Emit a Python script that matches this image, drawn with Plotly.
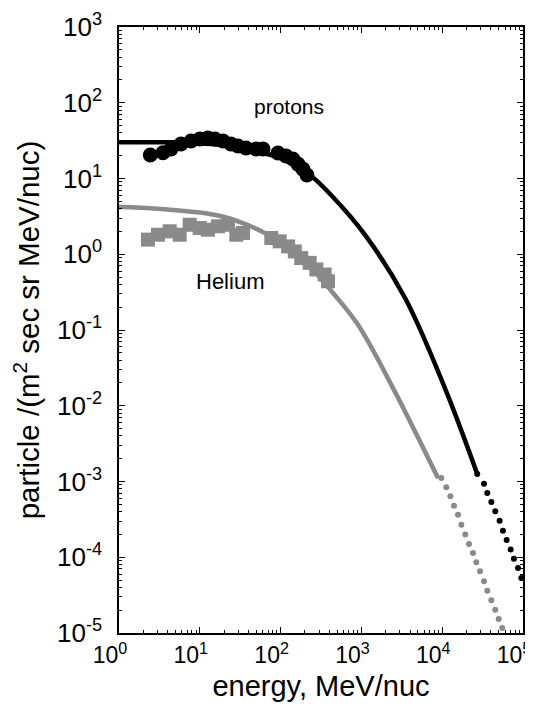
import plotly.graph_objects as go

# ---- data ----
# proton model curve (solid)
proton_curve_E = [1, 5, 10, 20, 40, 100, 238, 421, 1109, 3470, 10800, 27160]
proton_curve_F = [30, 30, 29, 27.5, 24, 18.5, 10.8, 6.05, 1.80, 0.264, 0.0171, 1.26e-3]
# proton model extrapolation (dotted)
proton_dots_E = [27160, 32890, 36140, 40550, 45390, 51400, 56490, 62810, 70310, 77270, 86700, 95280]
proton_dots_F = [1.26e-3, 9.35e-4, 7.05e-4, 5.36e-4, 4.04e-4, 3.04e-4, 2.24e-4, 1.69e-4,
                 1.27e-4, 9.57e-5, 7.21e-5, 5.32e-5]
# proton measurements
proton_E = [2.44, 3.5, 4.4, 5.85, 7.8, 10.0, 12.6, 15.4, 19.4, 24.3, 29.7, 37.3, 49.6, 60.6,
            92.9, 117, 142, 164, 189, 212]
proton_F = [20.4, 21.9, 24.5, 28.5, 31.3, 33.2, 34.2, 33.2, 31.3, 28.5, 26.8, 25.3, 24.5, 24.5,
            21.7, 19.8, 18.1, 15.5, 13.3, 11.1]

# helium model curve (solid)
helium_curve_E = [1, 3, 10, 20, 40, 70, 130, 250, 467, 908, 2500, 8900]
helium_curve_F = [4.2, 4.0, 3.55, 3.1, 2.4, 1.8, 1.15, 0.62, 0.29, 0.117, 0.0166, 1.1e-3]
# helium model extrapolation (dotted)
helium_dots_E = [9750, 11250, 12620, 14000, 15700, 17260, 19320, 21480, 24040, 26420, 29380,
                 32890, 36140, 40550, 45390, 50000, 55460]
helium_dots_F = [1.11e-3, 8.38e-4, 6.37e-4, 4.80e-4, 3.65e-4, 2.69e-4, 1.99e-4, 1.50e-4,
                 1.14e-4, 8.57e-5, 6.52e-5, 4.81e-5, 3.62e-5, 2.70e-5, 2.03e-5, 1.53e-5, 1.16e-5]
# helium measurements
helium_E = [2.28, 3.04, 4.24, 5.64, 7.50, 9.97, 12.6, 16.8, 22.3, 28.3, 34.3, 76.7, 97.5, 124,
            150, 180, 229, 277, 351, 386]
helium_F = [1.56, 1.81, 2.01, 1.81, 2.45, 2.22, 2.11, 2.34, 2.45, 1.81, 1.91, 1.64, 1.48, 1.27,
            1.09, 0.89, 0.77, 0.63, 0.54, 0.44]

x_tickvals = [1, 10, 100, 1000, 10000, 100000]
x_ticktext = ["10<sup>0</sup>", "10<sup>1</sup>", "10<sup>2</sup>", "10<sup>3</sup>",
              "10<sup>4</sup>", "10<sup>5</sup>"]
y_tickvals = [1e-5, 1e-4, 1e-3, 1e-2, 1e-1, 1, 10, 100, 1000]
y_ticktext = ["10<sup>-5</sup>", "10<sup>-4</sup>", "10<sup>-3</sup>", "10<sup>-2</sup>",
              "10<sup>-1</sup>", "10<sup>0</sup>", "10<sup>1</sup>", "10<sup>2</sup>",
              "10<sup>3</sup>"]

BLACK = "#000000"
GRAY = "#8a8a8a"
FONT = "Liberation Sans, Arial, sans-serif"

fig = go.Figure()
fig.add_trace(go.Scatter(x=helium_curve_E, y=helium_curve_F, mode="lines",
                         line=dict(color=GRAY, width=4.5, shape="spline", smoothing=1.0),
                         showlegend=False))
fig.add_trace(go.Scatter(x=helium_dots_E, y=helium_dots_F, mode="markers",
                         marker=dict(color=GRAY, size=6, symbol="circle"), showlegend=False))
fig.add_trace(go.Scatter(x=helium_E, y=helium_F, mode="markers",
                         marker=dict(color=GRAY, size=14, symbol="square"), showlegend=False))
fig.add_trace(go.Scatter(x=proton_curve_E, y=proton_curve_F, mode="lines",
                         line=dict(color=BLACK, width=4.5, shape="spline", smoothing=1.0),
                         showlegend=False))
fig.add_trace(go.Scatter(x=proton_dots_E, y=proton_dots_F, mode="markers",
                         marker=dict(color=BLACK, size=6, symbol="circle"), showlegend=False))
fig.add_trace(go.Scatter(x=proton_E, y=proton_F, mode="markers",
                         marker=dict(color=BLACK, size=15, symbol="circle"), showlegend=False))

fig.add_annotation(x=2.1, y=1.95, xref="x", yref="y", text="protons", showarrow=False,
                   font=dict(size=21, color="black", family=FONT))
fig.add_annotation(x=1.37, y=-0.36, xref="x", yref="y", text="Helium", showarrow=False,
                   font=dict(size=22, color="black", family=FONT))

axis_common = dict(
    showline=True, linecolor="black", linewidth=1.5, mirror="ticks",
    ticks="inside", ticklen=6, tickwidth=1.2, tickcolor="black",
    showgrid=False, zeroline=False, automargin=False,
)

x_minor = [m * 10 ** d for d in range(0, 5) for m in range(2, 10)]
y_minor = [m * 10.0 ** d for d in range(-5, 3) for m in range(2, 10)]

fig.update_xaxes(type="log", range=[0, 5], tickmode="array", tickvals=x_tickvals,
                 ticktext=x_ticktext, ticklabelstandoff=1, ticklabelshift=-9,
                 tickfont=dict(size=23, color="black", family=FONT),
                 minor=dict(ticks="inside", ticklen=3, tickcolor="black", tickmode="array",
                            tickvals=x_minor, showgrid=False),
                 title=dict(text="energy, MeV/nuc", font=dict(size=29, color="black", family=FONT),
                            standoff=8),
                 **axis_common)
fig.update_yaxes(type="log", range=[-5, 3], tickmode="array", tickvals=y_tickvals,
                 ticktext=y_ticktext, ticklabelstandoff=10,
                 tickfont=dict(size=26, color="black", family=FONT),
                 minor=dict(ticks="inside", ticklen=3, tickcolor="black", tickmode="array",
                            tickvals=y_minor, showgrid=False),
                 title=dict(text="particle /(m<sup>2</sup> sec sr MeV/nuc)",
                            font=dict(size=29.5, color="black", family=FONT), standoff=12),
                 **axis_common)

fig.update_layout(
    width=533, height=708,
    margin=dict(l=111, r=18, t=19, b=83),
    paper_bgcolor="white", plot_bgcolor="white",
    font=dict(family=FONT, color="black"),
)

fig.write_html("out.html")
